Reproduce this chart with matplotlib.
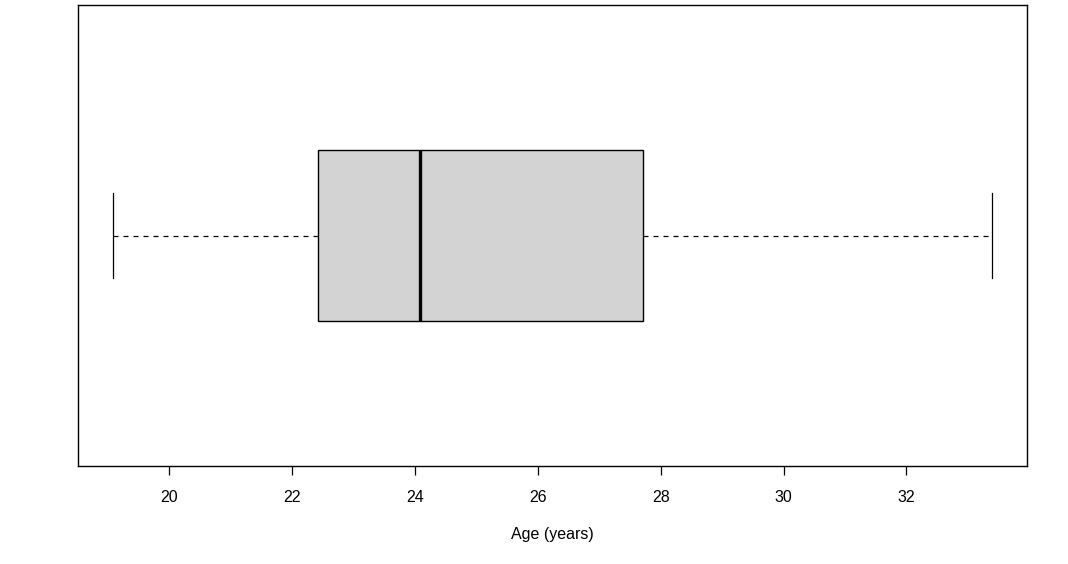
import matplotlib
matplotlib.use("Agg")
import matplotlib.pyplot as plt

# Box statistics (Age in years)
whisker_low = 19.09
q1 = 22.42
median = 24.08
q3 = 27.71
whisker_high = 33.39
xticks = [20, 22, 24, 26, 28, 30, 32]
xlabel = "Age (years)"

plt.rcParams['font.family'] = ['Liberation Sans', 'DejaVu Sans']

fig = plt.figure(figsize=(10.68, 5.64), dpi=100)
ax = fig.add_axes([78/1068, 1 - 466/564, (1027-78)/1068, (466-5)/564])

stats = [dict(whislo=whisker_low, q1=q1, med=median, q3=q3, whishi=whisker_high, fliers=[])]
ax.bxp(stats, positions=[1], widths=0.371, capwidths=0.185, orientation='horizontal',
       patch_artist=True, showfliers=False,
       boxprops=dict(facecolor='#d3d3d3', edgecolor='black', linewidth=1.0),
       medianprops=dict(color='black', linewidth=2.4, solid_capstyle='butt'),
       whiskerprops=dict(color='black', linewidth=0.9, linestyle=(0, (4, 4))),
       capprops=dict(color='black', linewidth=0.9))

rng = whisker_high - whisker_low
ax.set_xlim(whisker_low - 0.04 * rng, whisker_high + 0.04 * rng)
ax.set_ylim(0.5, 1.5)
ax.set_yticks([])
ax.set_xticks(xticks)
ax.set_xticklabels([str(t) for t in xticks])
ax.tick_params(axis='x', length=9*0.72, width=0.9, pad=11, labelsize=11.5)
ax.spines['left'].set_visible(True)
for s in ax.spines.values():
    s.set_linewidth(1.0)
ax.set_xlabel(xlabel, fontsize=11.5, labelpad=16)

fig.savefig("out.png", dpi=100)
